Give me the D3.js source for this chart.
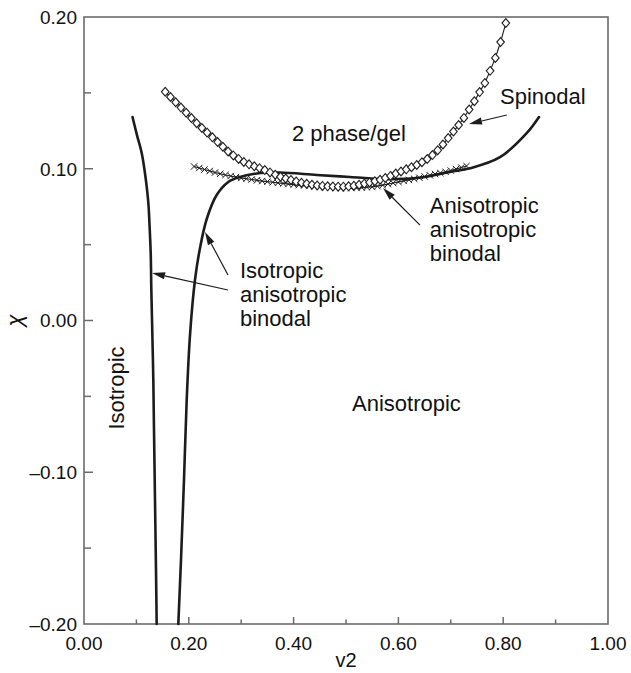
<!DOCTYPE html>
<html>
<head>
<meta charset="utf-8">
<script src="https://cdn.jsdelivr.net/npm/d3@7"></script>
<style>
  body { margin: 0; background: #fff; }
  svg { display: block; }
  text { font-family: "Liberation Sans", Arial, sans-serif; fill: #111; }
</style>
</head>
<body>
<svg id="chart" width="631" height="673"></svg>
<script>
// --- DATA ---

// Isotropic-anisotropic binodal, isotropic branch (solid)
const isoBranchV   = [0.0926, 0.1011, 0.1101, 0.1155, 0.1197, 0.1231, 0.1246, 0.1273, 0.1284, 0.1298, 0.1311, 0.1323, 0.1336, 0.1355, 0.1374, 0.1387];
const isoBranchChi = [0.1341, 0.1222, 0.1104, 0.0992, 0.0880, 0.0761, 0.0662, 0.0445, 0.0221, 0.0003, -0.0195, -0.0392, -0.0722, -0.1183, -0.1645, -0.2000];

// Isotropic-anisotropic binodal, anisotropic branch (solid)
const anisoBranchV   = [0.1800, 0.1851, 0.1908, 0.1960, 0.2023, 0.2118, 0.2214, 0.2342, 0.2532, 0.2754, 0.2977, 0.3296, 0.3740, 0.4441, 0.5076, 0.5706, 0.6349, 0.6985, 0.7366, 0.7939, 0.8448, 0.8683];
const anisoBranchChi = [-0.2000, -0.1578, -0.1051, -0.0524, -0.0096, 0.0267, 0.0478, 0.0669, 0.0827, 0.0913, 0.0946, 0.0969, 0.0975, 0.0959, 0.0946, 0.0932, 0.0939, 0.0979, 0.1003, 0.1076, 0.1234, 0.1341];

// Spinodal (open diamonds)
const spinodalV = [0.155, 0.165, 0.175, 0.185, 0.195, 0.205, 0.215, 0.225, 0.235, 0.245, 0.255, 0.265, 0.275, 0.285, 0.295, 0.305, 0.315, 0.325, 0.335, 0.345, 0.355, 0.365, 0.375, 0.385, 0.395, 0.405, 0.415, 0.425, 0.435, 0.445, 0.455, 0.465, 0.475, 0.485, 0.495, 0.505, 0.515, 0.525, 0.535, 0.545, 0.555, 0.565, 0.575, 0.585, 0.595, 0.605, 0.615, 0.625, 0.635, 0.645, 0.655, 0.665, 0.675, 0.685, 0.695, 0.705, 0.715, 0.725, 0.735, 0.745, 0.755, 0.765, 0.775, 0.785, 0.795, 0.805];
const spinodalChi = [0.1507, 0.1473, 0.1438, 0.1403, 0.1369, 0.1334, 0.1300, 0.1269, 0.1238, 0.1207, 0.1176, 0.1145, 0.1114, 0.1088, 0.1065, 0.1045, 0.1029, 0.1016, 0.1004, 0.0991, 0.0976, 0.0961, 0.0947, 0.0936, 0.0926, 0.0916, 0.0908, 0.0901, 0.0895, 0.0890, 0.0887, 0.0884, 0.0883, 0.0882, 0.0882, 0.0884, 0.0888, 0.0895, 0.0902, 0.0910, 0.0918, 0.0927, 0.0939, 0.0953, 0.0968, 0.0982, 0.0996, 0.1010, 0.1025, 0.1043, 0.1064, 0.1090, 0.1122, 0.1160, 0.1202, 0.1245, 0.1288, 0.1335, 0.1390, 0.1445, 0.1505, 0.1565, 0.1645, 0.1730, 0.1835, 0.1960];

// Anisotropic-anisotropic binodal (crosses)
const aaBinodalV = [0.21, 0.22, 0.23, 0.24, 0.25, 0.26, 0.27, 0.28, 0.29, 0.30, 0.31, 0.32, 0.33, 0.34, 0.35, 0.36, 0.37, 0.38, 0.39, 0.40, 0.41, 0.42, 0.43, 0.44, 0.45, 0.46, 0.47, 0.48, 0.49, 0.50, 0.51, 0.52, 0.53, 0.54, 0.55, 0.56, 0.57, 0.58, 0.59, 0.60, 0.61, 0.62, 0.63, 0.64, 0.65, 0.66, 0.67, 0.68, 0.69, 0.70, 0.71, 0.72, 0.73];
const aaBinodalChi = [0.1015, 0.1005, 0.0995, 0.0985, 0.0975, 0.0967, 0.0959, 0.0952, 0.0945, 0.0939, 0.0934, 0.0929, 0.0924, 0.0919, 0.0915, 0.0911, 0.0907, 0.0903, 0.0899, 0.0896, 0.0893, 0.0890, 0.0887, 0.0883, 0.0880, 0.0878, 0.0876, 0.0875, 0.0874, 0.0873, 0.0873, 0.0874, 0.0876, 0.0878, 0.0880, 0.0885, 0.0892, 0.0899, 0.0906, 0.0913, 0.0920, 0.0927, 0.0934, 0.0941, 0.0949, 0.0957, 0.0965, 0.0972, 0.0980, 0.0988, 0.0998, 0.1008, 0.1018];

// Axis ticks
const xMajorTicks = [0, 0.2, 0.4, 0.6, 0.8, 1.0];
const xMinorTicks = [0.1, 0.3, 0.5, 0.7, 0.9];
const yMajorTicks = [-0.2, -0.1, 0, 0.1, 0.2];
const yMinorTicks = [-0.15, -0.05, 0.05, 0.15];
const yTickLabels = ["\u20130.20", "\u20130.10", "0.00", "0.10", "0.20"];

// Annotations (data coordinates)
const regionLabels = [
  { lines: ["2 phase/gel"], v: 0.397, chi: 0.1185 },
  { lines: ["Spinodal"], v: 0.794, chi: 0.1427 },
  { lines: ["Anisotropic", "anisotropic", "binodal"], v: 0.660, chi: 0.0708 },
  { lines: ["Isotropic", "anisotropic", "binodal"], v: 0.2977, chi: 0.0280 },
  { lines: ["Anisotropic"], v: 0.5115, chi: -0.0594 }
];
const isoLabel = { text: "Isotropic", v: 0.0763, chi: -0.0719 };
const arrows = [
  { from: [0.807, 0.1354], to: [0.7347, 0.1295] },
  { from: [0.6412, 0.0629], to: [0.5706, 0.0873] },
  { from: [0.2748, 0.0201], to: [0.1298, 0.0313] },
  { from: [0.2748, 0.0300], to: [0.2309, 0.0583] }
];


// --- SETUP ---
const svg = d3.select("#chart");
const x = d3.scaleLinear().domain([0, 1]).range([84, 608]);
const y = d3.scaleLinear().domain([-0.2, 0.2]).range([624, 17]);
const ink = "#1c1c1c";
const axisColor = "#6b6b6b";

const zip = (vs, cs) => vs.map((v, i) => ({ v: v, chi: cs[i] }));

// Frame
svg.append("rect")
    .attr("x", x(0)).attr("y", y(0.2))
    .attr("width", x(1) - x(0)).attr("height", y(-0.2) - y(0.2))
    .attr("fill", "none").attr("stroke", axisColor).attr("stroke-width", 1.6);

// Inward ticks
const bottom = y(-0.2), left = x(0);
svg.selectAll(".xtick").data(xMajorTicks.slice(1, -1).map(t => [t, 7]).concat(xMinorTicks.map(t => [t, 4.5])))
  .join("line")
    .attr("x1", d => x(d[0])).attr("x2", d => x(d[0]))
    .attr("y1", bottom).attr("y2", d => bottom - d[1])
    .attr("stroke", axisColor).attr("stroke-width", 1.5);
svg.selectAll(".ytick").data(yMajorTicks.slice(1, -1).map(t => [t, 9]).concat(yMinorTicks.map(t => [t, 7])))
  .join("line")
    .attr("y1", d => y(d[0])).attr("y2", d => y(d[0]))
    .attr("x1", left).attr("x2", d => left + d[1])
    .attr("stroke", axisColor).attr("stroke-width", 1.5);

// Tick labels
svg.selectAll(".xlab").data(xMajorTicks).join("text")
    .attr("x", d => x(d)).attr("y", 650)
    .attr("text-anchor", "middle").attr("font-size", 19)
    .text(d => d.toFixed(2));
svg.selectAll(".ylab").data(yMajorTicks).join("text")
    .attr("x", 77).attr("y", d => y(d)).attr("dy", "0.36em")
    .attr("text-anchor", "end").attr("font-size", 19)
    .text((d, i) => yTickLabels[i]);

// Axis titles
svg.append("text")
    .attr("x", (x(0) + x(1)) / 2).attr("y", 667)
    .attr("text-anchor", "middle").attr("font-size", 20)
    .text("v2");
svg.append("text")
    .attr("transform", `translate(22,${y(0)}) rotate(-90)`)
    .attr("text-anchor", "middle")
    .attr("font-family", "'DejaVu Serif', 'Liberation Serif', serif")
    .attr("font-style", "italic").attr("font-size", 22)
    .text("\u03c7");


// --- CURVES ---
const smooth = d3.line().x(d => x(d.v)).y(d => y(d.chi)).curve(d3.curveCatmullRom.alpha(0.5));
const straight = d3.line().x(d => x(d.v)).y(d => y(d.chi));

[zip(isoBranchV, isoBranchChi), zip(anisoBranchV, anisoBranchChi)].forEach(pts => {
    svg.append("path").attr("d", smooth(pts))
        .attr("fill", "none").attr("stroke", ink).attr("stroke-width", 2.6)
        .attr("stroke-linecap", "round");
});

// Anisotropic-anisotropic binodal: thin line with crosses
const aaPts = zip(aaBinodalV, aaBinodalChi);
svg.append("path").attr("d", straight(aaPts))
    .attr("fill", "none").attr("stroke", ink).attr("stroke-width", 1.2);
svg.selectAll(".cross").data(aaPts).join("path")
    .attr("d", d => {
        const cx = x(d.v), cy = y(d.chi), r = 3.2;
        return `M${cx - r},${cy - r}L${cx + r},${cy + r}M${cx - r},${cy + r}L${cx + r},${cy - r}`;
    })
    .attr("stroke", ink).attr("stroke-width", 1);

// Spinodal: thin line with open diamonds
const spPts = zip(spinodalV, spinodalChi);
svg.append("path").attr("d", straight(spPts))
    .attr("fill", "none").attr("stroke", ink).attr("stroke-width", 1.1);
svg.selectAll(".diamond").data(spPts).join("path")
    .attr("d", d => {
        const cx = x(d.v), cy = y(d.chi), w = 3.8, h = 4.4;
        return `M${cx},${cy - h}L${cx + w},${cy}L${cx},${cy + h}L${cx - w},${cy}Z`;
    })
    .attr("fill", "#fff").attr("stroke", ink).attr("stroke-width", 1.1);


// --- ANNOTATIONS ---
arrows.forEach(a => {
    const x0 = x(a.from[0]), y0 = y(a.from[1]), x1 = x(a.to[0]), y1 = y(a.to[1]);
    const ang = Math.atan2(y1 - y0, x1 - x0);
    const len = 13, hw = 3.6;
    const bx = x1 - len * Math.cos(ang), by = y1 - len * Math.sin(ang);
    const nx = -Math.sin(ang) * hw, ny = Math.cos(ang) * hw;
    svg.append("line")
        .attr("x1", x0).attr("y1", y0).attr("x2", bx).attr("y2", by)
        .attr("stroke", ink).attr("stroke-width", 1.2);
    svg.append("path")
        .attr("d", `M${x1},${y1}L${bx + nx},${by + ny}L${bx - nx},${by - ny}Z`)
        .attr("fill", ink);
});

regionLabels.forEach(lab => {
    const t = svg.append("text")
        .attr("x", x(lab.v)).attr("y", y(lab.chi))
        .attr("font-size", 22);
    lab.lines.forEach((line, i) => {
        t.append("tspan").attr("x", x(lab.v)).attr("dy", i === 0 ? 0 : 24).text(line);
    });
});

svg.append("text")
    .attr("transform", `translate(${x(isoLabel.v)},${y(isoLabel.chi)}) rotate(-90)`)
    .attr("font-size", 22)
    .text(isoLabel.text);
</script>
</body>
</html>
